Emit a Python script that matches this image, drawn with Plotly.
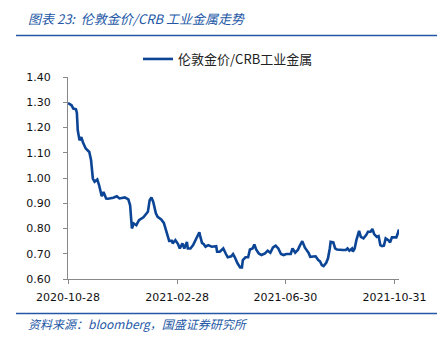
import plotly.graph_objects as go

# ---- data ----
dates = [
    "2020-10-28", "2020-11-01", "2020-11-03", "2020-11-06", "2020-11-07", "2020-11-08",
    "2020-11-10", "2020-11-12", "2020-11-14", "2020-11-17", "2020-11-21", "2020-11-23",
    "2020-11-25", "2020-11-27", "2020-11-30", "2020-12-02", "2020-12-05", "2020-12-07",
    "2020-12-10", "2020-12-12", "2020-12-18", "2020-12-22", "2020-12-25", "2020-12-31",
    "2021-01-04", "2021-01-06", "2021-01-08", "2021-01-10", "2021-01-13", "2021-01-16",
    "2021-01-21", "2021-01-24", "2021-01-26", "2021-01-28", "2021-01-30", "2021-02-01",
    "2021-02-04", "2021-02-06", "2021-02-10", "2021-02-13", "2021-02-16", "2021-02-19",
    "2021-02-22", "2021-02-23", "2021-02-26", "2021-03-01", "2021-03-03", "2021-03-06",
    "2021-03-08", "2021-03-11", "2021-03-12", "2021-03-15", "2021-03-18", "2021-03-21",
    "2021-03-23", "2021-03-25", "2021-03-26", "2021-03-28", "2021-03-30", "2021-04-01",
    "2021-04-04", "2021-04-08", "2021-04-13", "2021-04-14", "2021-04-17", "2021-04-21",
    "2021-04-24", "2021-04-26", "2021-04-30", "2021-05-02", "2021-05-04", "2021-05-07",
    "2021-05-10", "2021-05-12", "2021-05-13", "2021-05-16", "2021-05-19", "2021-05-21",
    "2021-05-24", "2021-05-26", "2021-05-28", "2021-05-31", "2021-06-03", "2021-06-07",
    "2021-06-10", "2021-06-13", "2021-06-16", "2021-06-19", "2021-06-22", "2021-06-25",
    "2021-06-28", "2021-07-01", "2021-07-06", "2021-07-08", "2021-07-11", "2021-07-14",
    "2021-07-16", "2021-07-19", "2021-07-22", "2021-07-26", "2021-07-28", "2021-07-31",
    "2021-08-03", "2021-08-06", "2021-08-08", "2021-08-10", "2021-08-12", "2021-08-15",
    "2021-08-17", "2021-08-19", "2021-08-20", "2021-08-23", "2021-08-25", "2021-08-27",
    "2021-08-30", "2021-09-03", "2021-09-06", "2021-09-08", "2021-09-10", "2021-09-13",
    "2021-09-14", "2021-09-16", "2021-09-18", "2021-09-21", "2021-09-23", "2021-09-26",
    "2021-09-29", "2021-10-01", "2021-10-04", "2021-10-06", "2021-10-08", "2021-10-11",
    "2021-10-13", "2021-10-15", "2021-10-17", "2021-10-19", "2021-10-21", "2021-10-24",
    "2021-10-26", "2021-10-28", "2021-10-30", "2021-11-02", "2021-11-03", "2021-11-05",
]
ratio = [
    1.297, 1.288, 1.275, 1.272, 1.258, 1.189,
    1.149, 1.162, 1.139, 1.117, 1.103, 1.070,
    0.998, 0.985, 0.994, 0.972, 0.928, 0.945,
    0.919, 0.918, 0.922, 0.928, 0.919, 0.923,
    0.915, 0.892, 0.800, 0.820, 0.813, 0.833,
    0.844, 0.860, 0.866, 0.912, 0.923, 0.906,
    0.860, 0.846, 0.836, 0.822, 0.781, 0.751,
    0.751, 0.741, 0.754, 0.738, 0.721, 0.741,
    0.721, 0.747, 0.721, 0.721, 0.734, 0.757,
    0.767, 0.785, 0.770, 0.743, 0.738, 0.728,
    0.734, 0.728, 0.730, 0.708, 0.708, 0.721,
    0.699, 0.686, 0.690, 0.699, 0.686, 0.662,
    0.646, 0.646, 0.675, 0.686, 0.686, 0.717,
    0.721, 0.737, 0.717, 0.701, 0.695, 0.701,
    0.712, 0.704, 0.725, 0.732, 0.721, 0.699,
    0.695, 0.699, 0.699, 0.721, 0.704, 0.715,
    0.730, 0.750, 0.724, 0.704, 0.688, 0.690,
    0.690, 0.675, 0.670, 0.655, 0.651, 0.664,
    0.682, 0.721, 0.747, 0.745, 0.721, 0.717,
    0.715, 0.715, 0.715, 0.721, 0.712, 0.721,
    0.708, 0.721, 0.754, 0.791, 0.767, 0.761,
    0.774, 0.787, 0.787, 0.798, 0.778, 0.767,
    0.770, 0.734, 0.730, 0.732, 0.761, 0.754,
    0.745, 0.765, 0.765, 0.765, 0.774, 0.796,
]
series_name = "伦敦金价/CRB工业金属"
x_tick_dates = ["2020-10-28", "2021-02-28", "2021-06-30", "2021-10-31"]
x_tick_labels = ["2020-10-28", "2021-02-28", "2021-06-30", "2021-10-31"]
y_ticks = [0.60, 0.70, 0.80, 0.90, 1.00, 1.10, 1.20, 1.30, 1.40]
title_text = "图表 23:  伦敦金价/CRB 工业金属走势"
source_text = "资料来源：bloomberg，国盛证券研究所"

# ---- layout geometry ----
W, H = 439, 340
L, R, T, B = 68, 40, 77, 61
PW, PH = W - L - R, H - T - B

def px(x):
    return (x - L) / PW

def py(y):
    return (H - B - y) / PH

BLUE = "#0c4596"
HEAD_BLUE = "#2458a6"
FONT = "DejaVu Sans, Verdana, sans-serif"
CJK = "Noto Sans CJK SC, sans-serif"

fig = go.Figure()
fig.add_trace(go.Scatter(
    x=dates, y=ratio, mode="lines", name=series_name,
    line=dict(color=BLUE, width=2.6),
))

fig.update_layout(
    width=W, height=H,
    margin=dict(l=L, r=R, t=T, b=B),
    paper_bgcolor="white", plot_bgcolor="white",
    showlegend=True,
    legend=dict(
        orientation="h", x=px(228), xanchor="center", y=py(59), yanchor="middle",
        font=dict(family=CJK, size=13, color="#222222"),
        bgcolor="rgba(0,0,0,0)", itemwidth=30,
    ),
    xaxis=dict(
        type="date", range=["2020-10-28", "2021-11-05"],
        tickvals=x_tick_dates, ticktext=x_tick_labels,
        showgrid=False, zeroline=False,
        showline=True, linecolor="#888888", linewidth=1,
        ticks="outside", ticklen=4, tickcolor="#888888",
        tickfont=dict(family=FONT, size=11, color="#111111"),
        ticklabelstandoff=4,
    ),
    yaxis=dict(
        range=[0.6, 1.4], tickvals=y_ticks, tickformat=".2f",
        showgrid=False, zeroline=False,
        showline=True, linecolor="#888888", linewidth=1,
        ticks="outside", ticklen=4, tickcolor="#888888",
        tickfont=dict(family=FONT, size=11, color="#111111"),
        ticklabelstandoff=10,
    ),
    shapes=[
        dict(type="line", xref="paper", yref="paper", x0=px(16), x1=px(437),
             y0=py(35.5), y1=py(35.5), line=dict(color=HEAD_BLUE, width=1.6)),
        dict(type="line", xref="paper", yref="paper", x0=px(16), x1=px(437),
             y0=py(313.5), y1=py(313.5), line=dict(color=HEAD_BLUE, width=1.6)),
    ],
    annotations=[
        dict(text="<i>" + title_text + "</i>", xref="paper", yref="paper",
             x=px(26), y=py(19), xanchor="left", yanchor="middle", showarrow=False,
             font=dict(family=CJK, size=13, color=HEAD_BLUE)),
        dict(text="<i>" + source_text + "</i>", xref="paper", yref="paper",
             x=px(26), y=py(323), xanchor="left", yanchor="middle", showarrow=False,
             font=dict(family=CJK, size=12, color=HEAD_BLUE)),
    ],
)

fig.write_html("out.html")
